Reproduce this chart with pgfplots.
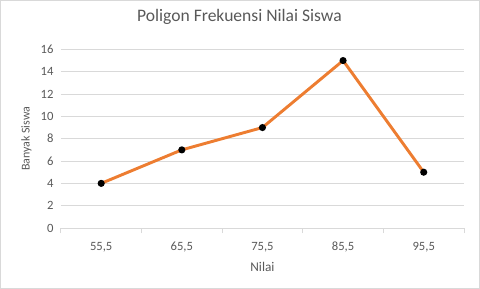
\documentclass[border=0pt]{standalone}
\usepackage{pgfplots}
\pgfplotsset{compat=1.18}
\usepackage{fontspec}
\setmainfont{Carlito}
\definecolor{lineor}{HTML}{ED7D31}
\definecolor{gridc}{HTML}{D9D9D9}
\definecolor{txt}{HTML}{595959}
\definecolor{border}{HTML}{D9D9D9}
\begin{document}
\begin{tikzpicture}
\begin{axis}[
  name=ax,
  anchor=south west,
  scale only axis,
  width=303pt, height=134.25pt,
  xmin=-0.5, xmax=4.5, ymin=0, ymax=16,
  xtick={0,1,2,3,4},
  xticklabels={{55,5},{65,5},{75,5},{85,5},{95,5}},
  minor xtick={-0.5,0.5,1.5,2.5,3.5,4.5},
  ytick={0,2,...,16},
  ymajorgrids=true,
  grid style={gridc, line width=0.75pt},
  axis line style={draw=none},
  axis x line*=bottom, axis y line*=left,
  major tick length=0pt,
  minor tick length=3.75pt,
  tick align=outside,
  minor tick style={gridc, line width=0.75pt},
  every tick label/.append style={font=\fontsize{9.5}{10}\selectfont, text=txt},
  /pgf/number format/assume math mode=true,
  xticklabel style={yshift=-7pt},
  yticklabel style={xshift=-2pt},
  xlabel={Nilai},
  xlabel style={font=\fontsize{10}{11}\selectfont, text=txt, yshift=-1pt},
  ylabel={Banyak Siswa},
  ylabel style={font=\fontsize{9}{10}\selectfont, text=txt},
  title={Poligon Frekuensi Nilai Siswa},
  title style={font=\fontsize{13.2}{15}\selectfont, text=txt, at={(axis description cs:0.443,1.135)}, anchor=center},
  clip=false,
]
\draw[gridc, line width=0.75pt] (axis cs:-0.5,0) -- (axis cs:4.5,0);
\addplot[lineor, line width=2.2pt, mark=*, mark options={fill=black, draw=black, scale=0.75}]
  coordinates {(0,4) (1,7) (2,9) (3,15) (4,5)};
\end{axis}
\pgfresetboundingbox
\draw[border,line width=0.75pt] (-45.375pt,-45.375pt) rectangle (314.625pt,171pt);
\path[use as bounding box] (-45.75pt,-45.75pt) rectangle (314.25pt,171pt);
\end{tikzpicture}
\end{document}
